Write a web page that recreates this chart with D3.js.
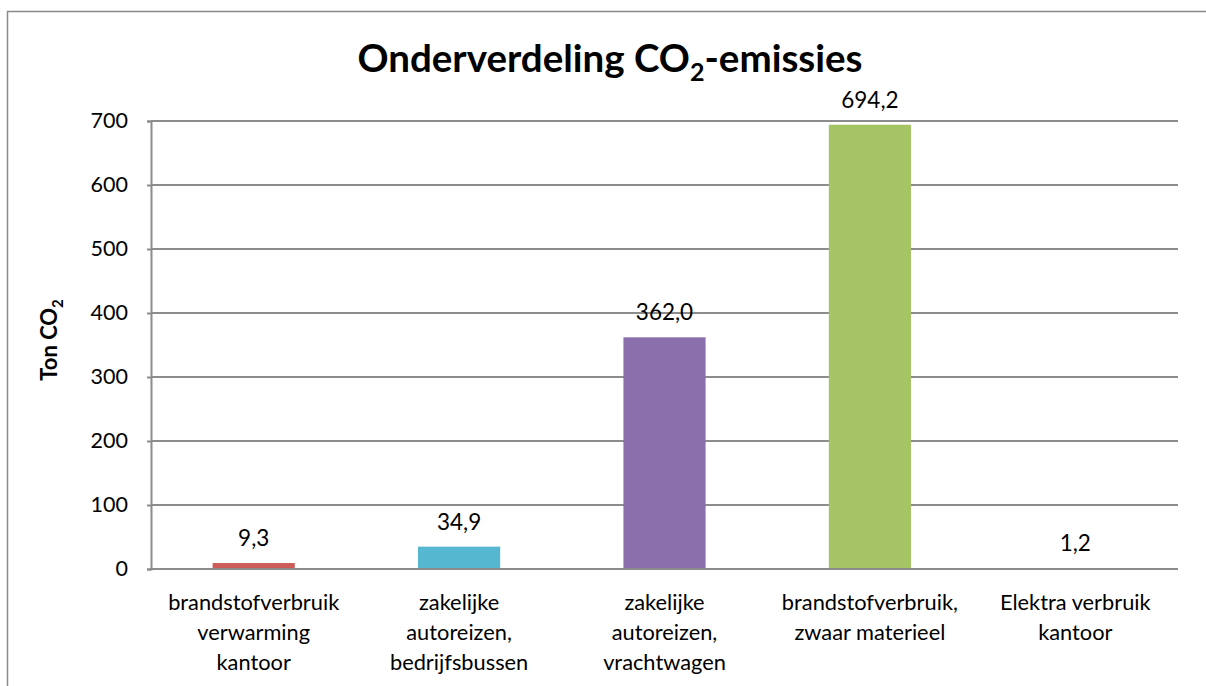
<!DOCTYPE html>
<html>
<head>
<meta charset="utf-8">
<script src="https://cdn.jsdelivr.net/npm/d3@7"></script>
<style>
  html, body { margin: 0; padding: 0; background: #fff; }
  svg { display: block; }
  text { font-family: Lato, "Open Sans", sans-serif; fill: #000; }
</style>
</head>
<body>
<script>
// Emissions per source (ton CO2)
const categories = [
  ["brandstofverbruik", "verwarming", "kantoor"],
  ["zakelijke", "autoreizen,", "bedrijfsbussen"],
  ["zakelijke", "autoreizen,", "vrachtwagen"],
  ["brandstofverbruik,", "zwaar materieel"],
  ["Elektra verbruik", "kantoor"]
];
const values = [9.3, 34.9, 362.0, 694.2, 1.2];
const colors = ["#CD5B59", "#56B7D0", "#8B6EAC", "#A5C564", "#E06A4F"];
const yTicks = [0, 100, 200, 300, 400, 500, 600, 700];

const W = 1206, H = 686;
const margin = { left: 151, right: 28, top: 121, bottom: 117 };

const svg = d3.select("body").append("svg").attr("width", W).attr("height", H);

// outer chart frame
svg.append("rect")
  .attr("x", 7.5).attr("y", 11.5)
  .attr("width", W + 20).attr("height", H + 20)
  .attr("fill", "none").attr("stroke", "#8a8a8a").attr("stroke-width", 1.5);

const x = d3.scaleBand()
  .domain(d3.range(categories.length))
  .range([margin.left, W - margin.right])
  .paddingInner(0.6).paddingOuter(0.3);

const y = d3.scaleLinear().domain([0, 700]).range([H - margin.bottom, margin.top]);

// gridlines
svg.append("g")
  .selectAll("line").data(yTicks.slice(1)).join("line")
  .attr("x1", margin.left).attr("x2", W - margin.right)
  .attr("y1", d => y(d)).attr("y2", d => y(d))
  .attr("stroke", "#8c8c8c").attr("stroke-width", 2);

// y axis
const yAxis = svg.append("g")
  .attr("transform", `translate(${margin.left},0)`)
  .call(d3.axisLeft(y).tickValues(yTicks).tickSize(4).tickPadding(19).tickFormat(d3.format("d")));
yAxis.select(".domain").attr("stroke", "#8c8c8c").attr("stroke-width", 2);
yAxis.selectAll(".tick line").attr("stroke", "#8c8c8c").attr("stroke-width", 2);
yAxis.selectAll(".tick text").style("font-size", "21.5px").style("font-family", "Lato, sans-serif").attr("fill", "#000");

// bars
svg.append("g")
  .selectAll("rect").data(values).join("rect")
  .attr("x", (d, i) => x(i))
  .attr("width", x.bandwidth())
  .attr("y", d => y(d))
  .attr("height", d => y(0) - y(d))
  .attr("fill", (d, i) => colors[i]);

// baseline
svg.append("line")
  .attr("x1", margin.left - 1).attr("x2", W - margin.right)
  .attr("y1", y(0)).attr("y2", y(0))
  .attr("stroke", "#8c8c8c").attr("stroke-width", 2);

// value labels
const fmt = v => v.toFixed(1).replace(".", ",");
svg.append("g")
  .selectAll("text").data(values).join("text")
  .attr("x", (d, i) => x(i) + x.bandwidth() / 2)
  .attr("y", d => y(d) - 17)
  .attr("text-anchor", "middle")
  .style("font-size", "22.5px")
  .text(d => fmt(d));

// category labels
const xl = svg.append("g");
categories.forEach((lines, i) => {
  const t = xl.append("text")
    .attr("x", x(i) + x.bandwidth() / 2)
    .attr("y", 610)
    .attr("text-anchor", "middle")
    .style("font-size", "21.8px");
  lines.forEach((ln, j) => {
    t.append("tspan").attr("x", x(i) + x.bandwidth() / 2).attr("y", 610 + j * 30.2).text(ln);
  });
});

// title
const title = svg.append("text")
  .attr("x", 610).attr("y", 72)
  .attr("text-anchor", "middle")
  .style("font-size", "38.5px").style("font-weight", "bold");
title.append("tspan").text("Onderverdeling CO");
title.append("tspan").attr("dy", 9).style("font-size", "25px").text("2");
title.append("tspan").attr("dy", -9).text("-emissies");

// y axis title
const yt = svg.append("text")
  .attr("transform", "translate(57,340) rotate(-90)")
  .attr("text-anchor", "middle")
  .style("font-size", "22px").style("font-weight", "bold");
yt.append("tspan").text("Ton CO");
yt.append("tspan").attr("dy", 6).style("font-size", "15px").text("2");
</script>
</body>
</html>
